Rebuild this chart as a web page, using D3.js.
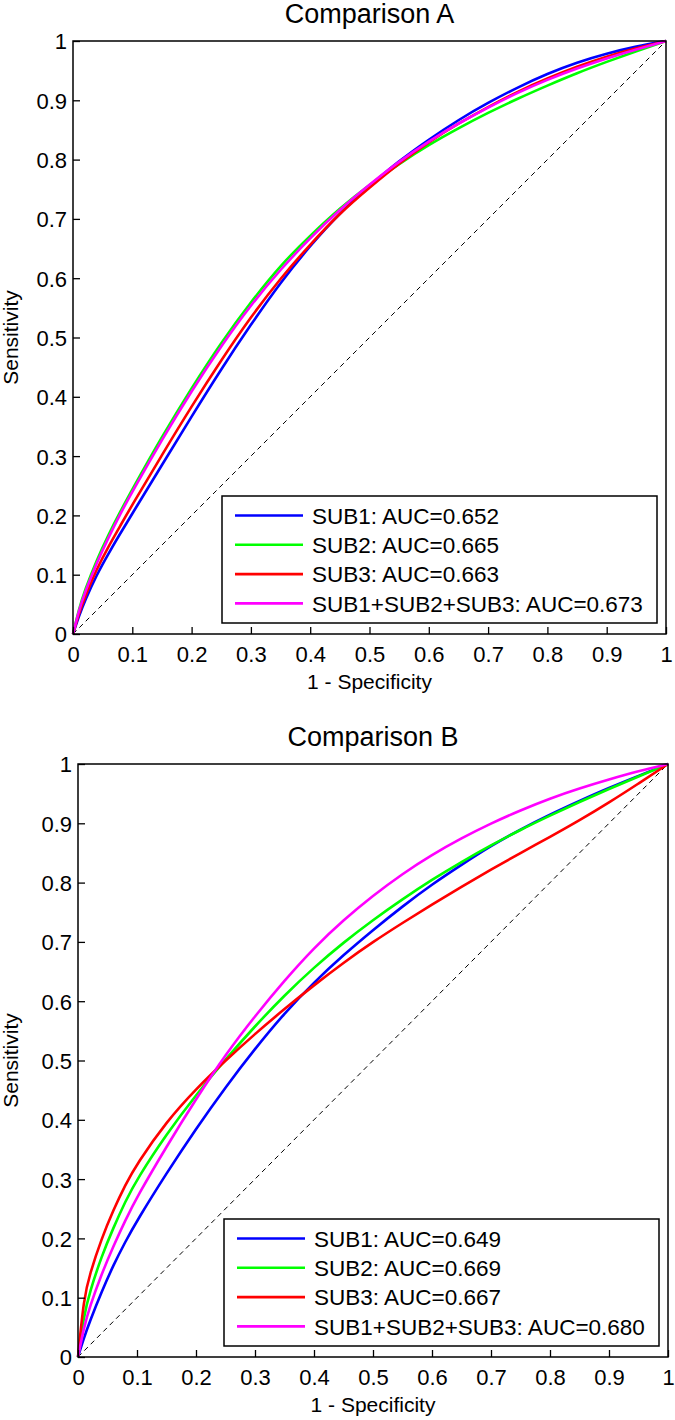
<!DOCTYPE html>
<html>
<head>
<meta charset="utf-8">
<script src="https://cdn.jsdelivr.net/npm/d3@7"></script>
<style>
  html, body { margin: 0; padding: 0; background: #fff; }
  svg { display: block; }
  text { font-family: Arial, "Liberation Sans", sans-serif; fill: #000; }
</style>
</head>
<body>
<div id="chart"></div>
<script>
// ---------------- data ----------------
const tickValues = [0, 0.1, 0.2, 0.3, 0.4, 0.5, 0.6, 0.7, 0.8, 0.9, 1];
const tickLabels = ["0", "0.1", "0.2", "0.3", "0.4", "0.5", "0.6", "0.7", "0.8", "0.9", "1"];
const seriesNames = ["SUB1", "SUB2", "SUB3", "SUB1+SUB2+SUB3"];
const panelTitles = ["Comparison A", "Comparison B"];
const aucA = ["0.652", "0.665", "0.663", "0.673"];
const aucB = ["0.649", "0.669", "0.667", "0.680"];

// common false-positive-rate grid (1 - Specificity)
const fpr = [0, 0.01, 0.02, 0.04, 0.06, 0.08, 0.1, 0.15, 0.2, 0.25, 0.3, 0.35, 0.4,
             0.45, 0.5, 0.55, 0.6, 0.65, 0.7, 0.75, 0.8, 0.85, 0.9, 0.95, 1];

// Comparison A — sensitivity per series
const tprA_SUB1 = [0, 0.03, 0.056, 0.10, 0.136, 0.17, 0.203, 0.285, 0.367, 0.447, 0.522, 0.593, 0.655,
                   0.71, 0.756, 0.798, 0.834, 0.867, 0.896, 0.922, 0.945, 0.964, 0.979, 0.991, 1];
const tprA_SUB2 = [0, 0.042, 0.074, 0.125, 0.168, 0.207, 0.244, 0.333, 0.415, 0.492, 0.56, 0.622, 0.672,
                   0.718, 0.758, 0.793, 0.825, 0.853, 0.879, 0.903, 0.925, 0.946, 0.965, 0.983, 1];
const tprA_SUB3 = [0, 0.035, 0.062, 0.11, 0.148, 0.183, 0.218, 0.302, 0.384, 0.462, 0.535, 0.60, 0.657,
                   0.71, 0.753, 0.794, 0.83, 0.861, 0.889, 0.915, 0.937, 0.957, 0.974, 0.988, 1];
const tprA_ALL  = [0, 0.04, 0.07, 0.12, 0.163, 0.203, 0.24, 0.328, 0.41, 0.486, 0.555, 0.615, 0.668,
                   0.716, 0.758, 0.797, 0.831, 0.861, 0.888, 0.913, 0.935, 0.954, 0.971, 0.986, 1];

// Comparison B — sensitivity per series
const tprB_SUB1 = [0, 0.032, 0.06, 0.11, 0.155, 0.194, 0.23, 0.31, 0.385, 0.455, 0.52, 0.58, 0.632,
                   0.678, 0.72, 0.76, 0.797, 0.83, 0.862, 0.89, 0.915, 0.938, 0.96, 0.98, 1];
const tprB_SUB2 = [0, 0.07, 0.11, 0.17, 0.218, 0.262, 0.30, 0.376, 0.442, 0.502, 0.558, 0.61, 0.657,
                   0.699, 0.737, 0.772, 0.805, 0.835, 0.863, 0.889, 0.913, 0.936, 0.958, 0.979, 1];
const tprB_SUB3 = [0, 0.10, 0.14, 0.20, 0.248, 0.29, 0.326, 0.397, 0.452, 0.50, 0.545, 0.587, 0.627,
                   0.665, 0.70, 0.732, 0.763, 0.793, 0.822, 0.85, 0.877, 0.905, 0.935, 0.967, 1];
const tprB_ALL  = [0, 0.05, 0.085, 0.14, 0.187, 0.23, 0.27, 0.355, 0.435, 0.51, 0.575, 0.635, 0.69,
                   0.737, 0.778, 0.815, 0.847, 0.875, 0.90, 0.922, 0.942, 0.959, 0.974, 0.988, 1];

// ---------------- styles ----------------
const colors = ["#0000ff", "#00ff00", "#ff0000", "#ff00ff"];

const W = 675, H = 1420;
const svg = d3.select("#chart").append("svg").attr("width", W).attr("height", H);

const panels = [
  { title: panelTitles[0], auc: aucA, tprs: [tprA_SUB1, tprA_SUB2, tprA_SUB3, tprA_ALL],
    left: 73, right: 666, top: 41, bottom: 634 },
  { title: panelTitles[1], auc: aucB, tprs: [tprB_SUB1, tprB_SUB2, tprB_SUB3, tprB_ALL],
    left: 78, right: 668, top: 764, bottom: 1357 }
];

panels.forEach(p => {
  const x = d3.scaleLinear().domain([0, 1]).range([p.left, p.right]);
  const y = d3.scaleLinear().domain([0, 1]).range([p.bottom, p.top]);
  const g = svg.append("g");

  // diagonal reference
  g.append("line")
    .attr("x1", x(0)).attr("y1", y(0)).attr("x2", x(1)).attr("y2", y(1))
    .attr("stroke", "#000").attr("stroke-width", 1).attr("stroke-dasharray", "5,4");

  // curves
  const line = d3.line()
    .x(d => x(d[0])).y(d => y(d[1]))
    .curve(d3.curveBasis);
  p.tprs.forEach((t, i) => {
    g.append("path")
      .datum(fpr.map((f, k) => [f, t[k]]))
      .attr("d", line)
      .attr("fill", "none")
      .attr("stroke", colors[i])
      .attr("stroke-width", 2.6);
  });

  // box
  g.append("rect")
    .attr("x", p.left).attr("y", p.top)
    .attr("width", p.right - p.left).attr("height", p.bottom - p.top)
    .attr("fill", "none").attr("stroke", "#000").attr("stroke-width", 1.5);

  // x axis (ticks inside)
  const xAxis = d3.axisBottom(x).tickValues(tickValues)
    .tickFormat((d, i) => tickLabels[i]).tickSizeInner(-7).tickSizeOuter(0).tickPadding(0);
  const gx = g.append("g").attr("transform", `translate(0,${p.bottom})`).call(xAxis);
  gx.select(".domain").remove();
  gx.selectAll(".tick line").attr("stroke", "#000").attr("stroke-width", 1.3);
  gx.selectAll(".tick text")
    .attr("y", 28).attr("dy", null)
    .style("font-size", "22px").style("font-family", "Arial, 'Liberation Sans', sans-serif").attr("fill", "#000");

  // y axis (ticks inside)
  const yAxis = d3.axisLeft(y).tickValues(tickValues)
    .tickFormat((d, i) => tickLabels[i]).tickSizeInner(-7).tickSizeOuter(0).tickPadding(0);
  const gy = g.append("g").attr("transform", `translate(${p.left},0)`).call(yAxis);
  gy.select(".domain").remove();
  gy.selectAll(".tick line").attr("stroke", "#000").attr("stroke-width", 1.3);
  gy.selectAll(".tick text")
    .attr("x", -6).attr("dy", "0.36em")
    .style("font-size", "22px").style("font-family", "Arial, 'Liberation Sans', sans-serif").attr("fill", "#000");

  // title
  g.append("text")
    .attr("x", (p.left + p.right) / 2).attr("y", p.top - 18)
    .attr("text-anchor", "middle").style("font-size", "27px")
    .text(p.title);

  // axis labels
  g.append("text")
    .attr("x", (p.left + p.right) / 2).attr("y", p.bottom + 55)
    .attr("text-anchor", "middle").style("font-size", "21px")
    .text("1 - Specificity");
  g.append("text")
    .attr("transform", `translate(18,${(p.top + p.bottom) / 2}) rotate(-90)`)
    .attr("text-anchor", "middle").style("font-size", "21px")
    .text("Sensitivity");

  // legend
  const lgW = 435, lgH = 127;
  const lgX = p.right - 9 - lgW, lgY = p.bottom - 11 - lgH;
  const lg = g.append("g").attr("transform", `translate(${lgX},${lgY})`);
  lg.append("rect").attr("width", lgW).attr("height", lgH)
    .attr("fill", "#fff").attr("stroke", "#000").attr("stroke-width", 1.5);
  seriesNames.forEach((name, i) => {
    const cy = 19.5 + i * 29.3;
    lg.append("line").attr("x1", 13).attr("x2", 81).attr("y1", cy).attr("y2", cy)
      .attr("stroke", colors[i]).attr("stroke-width", 2.6);
    lg.append("text").attr("x", 90).attr("y", cy).attr("dy", "0.36em")
      .style("font-size", "22.5px")
      .text(`${name}: AUC=${p.auc[i]}`);
  });
});
</script>
</body>
</html>
